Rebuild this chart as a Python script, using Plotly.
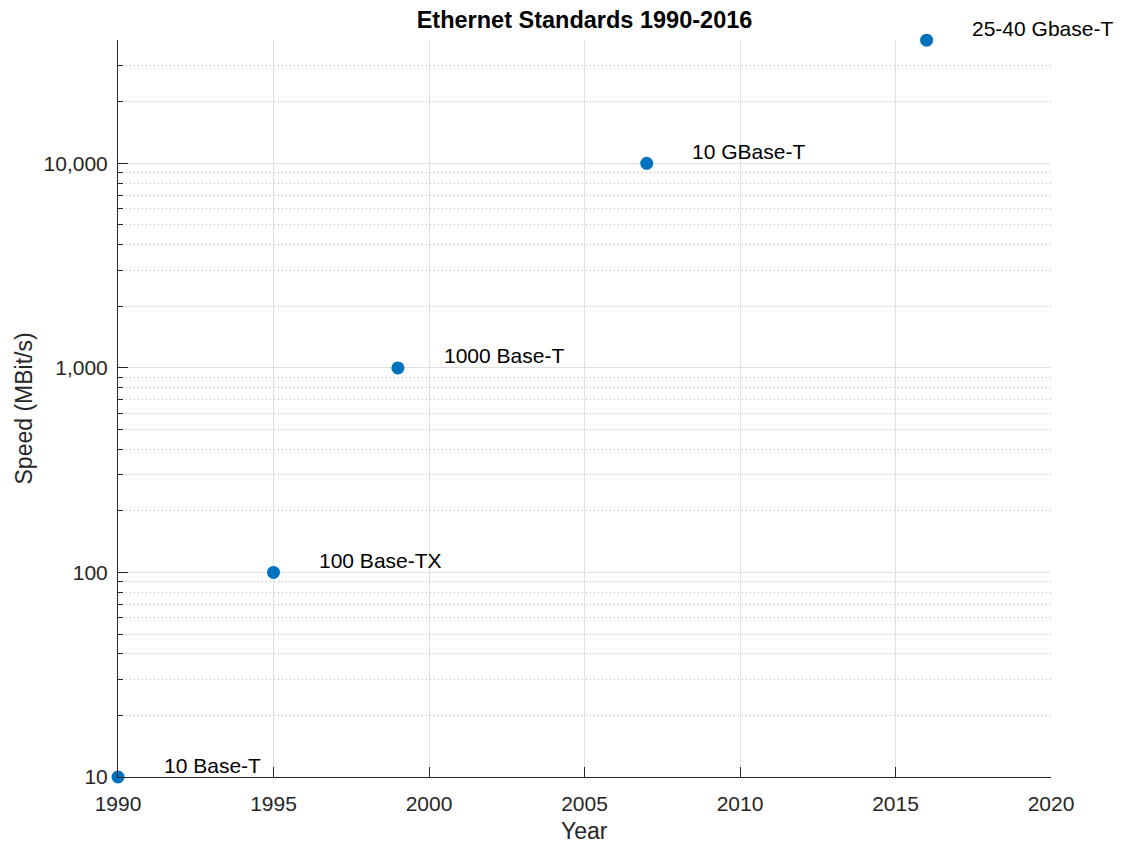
import numpy as np
import plotly.graph_objects as go

years = [1990, 1995, 1999, 2007, 2016]
speeds = [10, 100, 1000, 10000, 40000]
names = ["10 Base-T", "100 Base-TX", "1000 Base-T", "10 GBase-T", "25-40 Gbase-T"]

x_ticks = [1990, 1995, 2000, 2005, 2010, 2015, 2020]
y_ticks = [10, 100, 1000, 10000]
y_ticktext = ["10", "100", "1,000", "10,000"]
y_minor = [m * d for d in [10, 100, 1000] for m in range(2, 10)] + [20000, 30000, 40000]

label_dx = 1.5  # years to the right of each point

FONT = "Liberation Sans, Arial, Helvetica, sans-serif"
AXC = "#262626"

W, H = 1126, 843

fig = go.Figure()
fig.add_trace(go.Scatter(
    x=years, y=speeds, mode="markers",
    marker=dict(color="#0072BD", size=13),
    cliponaxis=False, showlegend=False,
))

for x, y, t in zip(years, speeds, names):
    fig.add_annotation(x=x + label_dx, y=np.log10(y), text=t, showarrow=False,
                       xanchor="left", yanchor="middle", yshift=12, xshift=-3,
                       font=dict(family=FONT, size=21, color="#000000"))

# axis titles
fig.add_annotation(x=0.5, y=0, xref="paper", yref="paper", text="Year",
                   showarrow=False, xanchor="center", yanchor="middle", yshift=-54,
                   font=dict(family=FONT, size=23, color=AXC))
fig.add_annotation(x=0, y=0.5, xref="paper", yref="paper", text="Speed (MBit/s)",
                   showarrow=False, xanchor="center", yanchor="middle", xshift=-95,
                   textangle=-90, font=dict(family=FONT, size=23, color=AXC))

fig.update_layout(
    width=W, height=H,
    margin=dict(l=118, r=75, t=40, b=66, autoexpand=False),
    paper_bgcolor="white", plot_bgcolor="white",
    font=dict(family=FONT, color=AXC),
    title=dict(text="<b>Ethernet Standards 1990-2016</b>", x=0.5, xref="paper",
               y=1 - 20 / H, yref="container", yanchor="middle", xanchor="center",
               font=dict(family=FONT, size=23.5, color="#000000")),
)

fig.update_xaxes(
    range=[1990, 2020], tickvals=x_ticks, ticktext=[str(v) for v in x_ticks],
    ticks="inside", ticklen=10, tickwidth=1, tickcolor=AXC,
    showline=True, linecolor=AXC, linewidth=1, mirror=False,
    showgrid=True, gridcolor="#dfdfdf", gridwidth=1, zeroline=False,
    tickfont=dict(size=21, color=AXC), ticklabelstandoff=8, automargin=False,
)

fig.update_yaxes(
    type="log", range=[1, np.log10(40000) + 0.001],
    tickvals=y_ticks, ticktext=y_ticktext,
    ticks="inside", ticklen=10, tickwidth=1, tickcolor=AXC,
    showline=True, linecolor=AXC, linewidth=1, mirror=False,
    showgrid=True, gridcolor="#dfdfdf", gridwidth=1, zeroline=False,
    tickfont=dict(size=21, color=AXC), ticklabelstandoff=5, automargin=False,
    minor=dict(tickvals=y_minor, ticks="inside", ticklen=5, tickcolor=AXC,
               showgrid=True, gridcolor="#b8b8b8", griddash="1px,3px", gridwidth=1),
)

fig.write_html("out.html", config={"displayModeBar": False},
               post_script="document.body.style.margin='0';document.body.style.overflow='hidden';")
